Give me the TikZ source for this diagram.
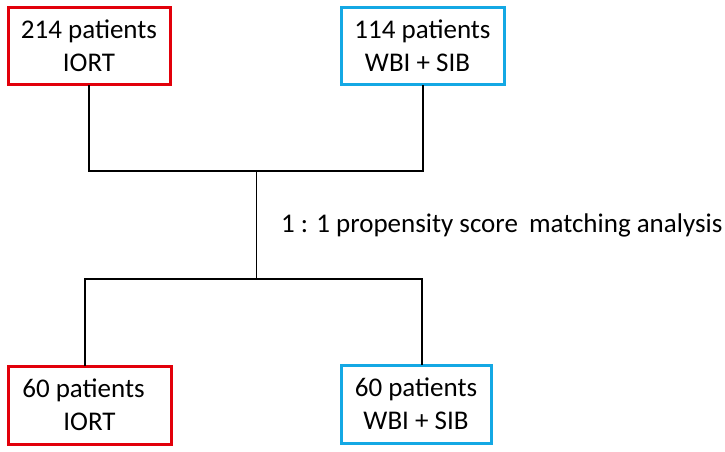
\documentclass[tikz,border=0pt]{standalone}
\usepackage{fontspec}
\setmainfont{Carlito}
\definecolor{boxred}{RGB}{226,0,10}
\definecolor{boxblue}{RGB}{20,168,228}
\begin{document}
\begin{tikzpicture}[x=1pt,y=-1pt,
  box/.style={draw,line width=3pt,minimum height=77pt,align=center,inner sep=0pt,
    font=\fontsize{27}{33}\selectfont},
  redbox/.style={box,draw=boxred},
  bluebox/.style={box,draw=boxblue},
  conn/.style={line width=2pt,line cap=rect}]
\useasboundingbox (0,0) rectangle (725,451);
\node[redbox,minimum width=162pt] (tl) at (89,45.5) {214 patients\\IORT};
\node[bluebox,minimum width=163pt] (tr) at (422.5,45.5) {114 patients\\WBI + SIB\hspace*{10pt}};
\node[redbox,minimum width=163pt,minimum height=78pt] (bl) at (89.5,405) {60 patients\hspace*{12pt}\\IORT};
\node[bluebox,minimum width=150pt,minimum height=78pt] (br) at (416,404) {60 patients\\WBI + SIB};
\coordinate (c1) at (256,171);
\coordinate (c2) at (256,279);
\coordinate (j3) at (85,279);
\coordinate (j4) at (422,279);
\draw[conn] (tl.south) -- (tl.south |- c1) -- (tr.south |- c1) -- (tr.south);
\draw[line width=1pt] (c1) -- (c2);
\draw[conn] (bl.north -| j3) -- (j3) -- (j4) -- (br.north -| j4);
\node[anchor=west,inner sep=0pt,font=\fontsize{27}{33}\selectfont] (lab) at (281,225) {1 : 1 propensity score\hspace{5pt} matching analysis};
\end{tikzpicture}
\end{document}
